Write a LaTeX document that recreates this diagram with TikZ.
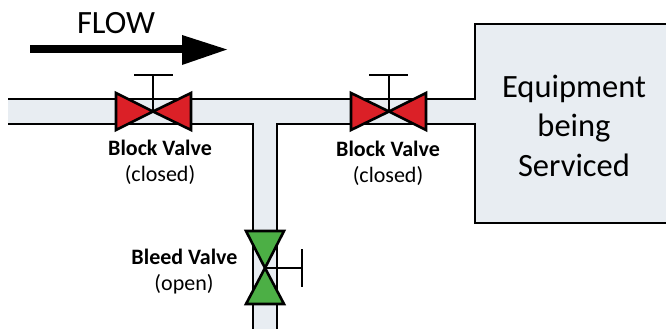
\documentclass[tikz,border=0pt]{standalone}
\usepackage{fontspec}
\setmainfont{Carlito}
\definecolor{pipefill}{HTML}{E8EDF2}
\definecolor{valvered}{HTML}{DB2027}
\definecolor{valvegreen}{HTML}{4CAF45}
\tikzset{
    pipeline/.style={line width=2.6pt},
    valvebody/.style={draw=black,line width=2.6pt,line join=miter},
    stemline/.style={line width=2.2pt},
    namelabel/.style={font=\fontsize{22}{26}\selectfont\bfseries,align=center},
    statelabel/.style={font=\fontsize{22}{26}\selectfont,align=center}
}
\begin{document}
\begin{tikzpicture}[x=1pt,y=-1pt]
            \useasboundingbox (0,0) rectangle (666,329);
            \clip (0,0) rectangle (666,329);
            % equipment
            \node (equip) at (574,123.5) [draw=black,line width=2.6pt,fill=pipefill,minimum width=198pt,minimum height=199pt] {};
            \node (equiptext) at (574,125.5) [align=center,font=\fontsize{32.5}{39.5}\selectfont] {Equipment\\being\\Serviced};
            % pipe run
            \coordinate (tl) at (253,124);
            \coordinate (tr) at (277,124);
            \coordinate (bl) at (253,329);
            \coordinate (br) at (277,329);
            \fill[pipefill] (8,99) -- (478,99) -- (478,124) -- (tr) -- (br) -- (bl) -- (tl) -- (8,124) -- cycle;
            \draw[pipeline] (8,99) -- (476,99);
            \draw[pipeline] (8,124) -- (tl) -- (bl);
            \draw[pipeline] (476,124) -- (tr) -- (br);
            % flow arrow
            \node (flow) at (116,23) [font=\fontsize{32.5}{36}\selectfont] {FLOW};
            \coordinate (fa) at (30,49.5);
            \coordinate (fb) at (183,49.5);
            \coordinate (fc) at (227,49.5);
            \draw[line width=8pt] (fa) -- (fb);
            \fill (fc) -- (182,35) -- (182,65) -- cycle;
            % valves
            \coordinate (v1) at (153,111.5);
            \coordinate (v2) at (389,111.5);
            \coordinate (v3) at (265,268);
            \coordinate (s1) at (153,75);
            \coordinate (s2) at (389,75);
            \coordinate (s3) at (302,268);
            \draw[valvebody,fill=valvered] (v1) -- (116,93) -- (116,130) -- cycle;
            \draw[valvebody,fill=valvered] (v1) -- (191,93) -- (191,130) -- cycle;
            \draw[valvebody,fill=valvered] (v2) -- (351,93) -- (351,130) -- cycle;
            \draw[valvebody,fill=valvered] (v2) -- (426,93) -- (426,130) -- cycle;
            \draw[valvebody,fill=valvegreen] (v3) -- (246,231) -- (284,231) -- cycle;
            \draw[valvebody,fill=valvegreen] (v3) -- (246,304) -- (284,304) -- cycle;
            \draw[stemline] (v1) -- (s1);
            \draw[stemline] (v2) -- (s2);
            \draw[stemline] (v3) -- (s3);
            \draw[stemline] (134,75) -- (s1) -- (173,75);
            \draw[stemline] (369,75) -- (s2) -- (408,75);
            \draw[stemline] (302,249) -- (s3) -- (302,287);
            % labels
            \node (n1) at (160,148) [namelabel] {Block Valve};
            \node (c1) at (160,175) [statelabel] {(closed)};
            \node (n2) at (388,149) [namelabel] {Block Valve};
            \node (c2) at (388,176) [statelabel] {(closed)};
            \node (n3) at (184.5,257) [namelabel] {Bleed Valve};
            \node (c3) at (184,284) [statelabel] {(open)};
        \end{tikzpicture}
\end{document}
